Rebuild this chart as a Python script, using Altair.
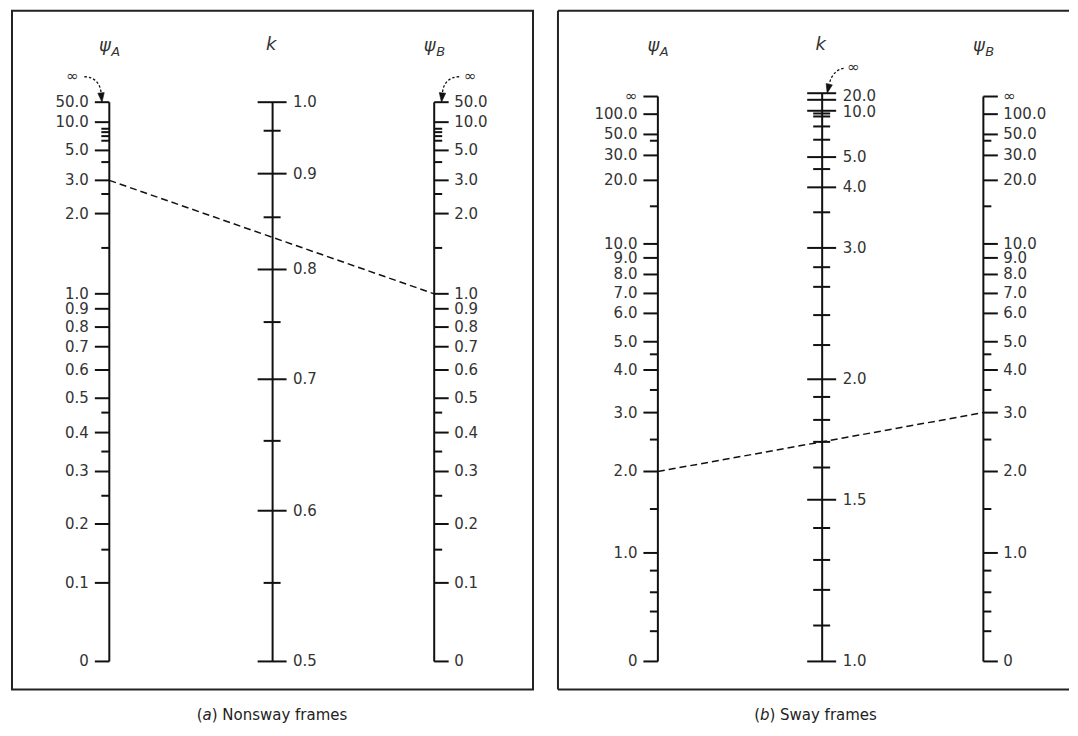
import altair as alt
import pandas as pd

INF = 1000.0   # numeric stand-in for the "∞" graduation

# ---------------- (a) Nonsway frames ----------------
a_psi_major = [0, 0.1, 0.2, 0.3, 0.4, 0.5, 0.6, 0.7, 0.8, 0.9, 1.0, 2.0, 3.0, 5.0, 10.0, 50.0]
a_psi_labels = ["0", "0.1", "0.2", "0.3", "0.4", "0.5", "0.6", "0.7", "0.8", "0.9",
                "1.0", "2.0", "3.0", "5.0", "10.0", "50.0"]
a_psi_minor = [0.15, 0.25, 0.35, 0.45, 1.5, 2.5, 4.0, 6.0, 7.0, 8.0, 9.0]
a_k_major = [0.5, 0.6, 0.7, 0.8, 0.9, 1.0]
a_k_labels = ["0.5", "0.6", "0.7", "0.8", "0.9", "1.0"]
a_k_minor = [0.55, 0.65, 0.75, 0.85, 0.95]
a_example = [3.0, 1.0]          # psi_A, psi_B joined by the dashed key line
a_caption = ["(", "a", ") Nonsway frames"]

# printed graduation of each scale: value -> page y (px)
a_psi_grad_val = [0, 0.1, 0.15, 0.2, 0.25, 0.3, 0.35, 0.4, 0.45, 0.5, 0.6, 0.7, 0.8, 0.9,
                  1.0, 1.5, 2.0, 2.5, 3.0, 4.0, 5.0, 6.0, 7.0, 8.0, 9.0, 10.0, 50.0]
a_psi_grad_y = [661, 582.3, 549, 523.3, 495, 470.7, 450.7, 431.7, 411.7, 397.3, 369, 345.7,
                326, 307.7, 292.7, 246.7, 212.3, 192.7, 179, 160.7, 149, 139.3, 134.7,
                130.7, 127.3, 120.7, 100.7]
a_k_grad_val = [0.5, 0.55, 0.6, 0.65, 0.7, 0.75, 0.8, 0.85, 0.9, 0.95, 1.0]
a_k_grad_y = [661, 582.3, 510, 440, 378.3, 321, 268.3, 216, 172.3, 129.3, 100.7]

# ---------------- (b) Sway frames ----------------
b_psi_major = [0, 1.0, 2.0, 3.0, 4.0, 5.0, 6.0, 7.0, 8.0, 9.0, 10.0, 20.0, 30.0, 50.0, 100.0, INF]
b_psi_labels = ["0", "1.0", "2.0", "3.0", "4.0", "5.0", "6.0", "7.0", "8.0", "9.0", "10.0",
                "20.0", "30.0", "50.0", "100.0", "∞"]
b_psi_minor = [0.2, 0.4, 0.6, 0.8, 1.5, 2.5, 3.5, 4.5, 15.0, 40.0]
b_k_major = [1.0, 1.5, 2.0, 3.0, 4.0, 5.0, 10.0, 20.0, INF]
b_k_labels = ["1.0", "1.5", "2.0", "3.0", "4.0", "5.0", "10.0", "20.0", ""]
b_k_minor = [1.1, 1.2, 1.3, 1.4, 1.6, 1.7, 1.8, 1.9, 2.2, 2.4, 2.6, 2.8, 3.5, 4.5,
             6.0, 7.0, 8.0, 9.0]
b_example = [2.0, 3.0]
b_caption = ["(", "b", ") Sway frames"]

b_psi_grad_val = [0, 0.2, 0.4, 0.6, 0.8, 1.0, 1.5, 2.0, 2.5, 3.0, 3.5, 4.0, 4.5, 5.0, 6.0,
                  7.0, 8.0, 9.0, 10.0, 15.0, 20.0, 30.0, 40.0, 50.0, 100.0, INF]
b_psi_grad_y = [661, 630.7, 611, 591.7, 570, 552.3, 508.3, 470.7, 438.7, 411.7, 389, 369,
                353.3, 340.7, 312.3, 292.3, 273.3, 256.7, 242.7, 205, 179, 154, 139.3, 133,
                112.7, 95]
b_k_grad_val = [1.0, 1.1, 1.2, 1.3, 1.4, 1.5, 1.6, 1.7, 1.8, 1.9, 2.0, 2.2, 2.4, 2.6, 2.8,
                3.0, 3.5, 4.0, 4.5, 5.0, 6.0, 7.0, 8.0, 9.0, 10.0, 20.0, INF]
b_k_grad_y = [661, 625, 589.3, 559.3, 527.3, 499, 466.7, 441, 419, 396, 378.3, 344, 314,
              285.7, 266, 246.7, 211, 186, 167.7, 155.7, 138.3, 125, 115, 112, 109.3, 98.3,
              91.7]

# ---------------- layout / style ----------------
WA, WB, H = 522, 512, 680
TOP = 9                          # page y of the plot-area top
SPACING = 23
COLS_A_PX = [97.5, 261.1, 423.0]     # psi_A, k, psi_B positions inside panel (a)
COLS_B_PX = [100.1, 264.7, 426.2]    # ... inside panel (b)
CAP_CENTER = {"a": 260.5, "b": 258.0}
CAP_Y = 706
FONT = "DejaVu Sans"
INK = "#111111"
TXT = "#333333"
FRAME = "#222222"
LABEL_SIZE = 15
CAP_SIZE = 15
# DejaVu Sans advance widths (em) for caption layout
ADV = {"(": 0.390, ")": 0.390, " ": 0.318, "N": 0.748, "S": 0.635, "o": 0.612, "n": 0.634,
       "s": 0.521, "w": 0.818, "a": 0.613, "b": 0.635, "y": 0.592, "f": 0.352, "r": 0.411,
       "m": 0.974, "e": 0.615}

# dotted "∞" pointer glyphs (symbol paths in px, tip at the end of the scale)
CURVE_L = "M-25,-25.5 C-15,-25.5 -9,-19 -8.3,-9.3"
HEAD_L = "M-7.3,0 L-11.5,-9 L-5.1,-9.6 Z"
CURVE_R = "M25,-25.5 C15,-25.5 9,-19 8.3,-9.3"
HEAD_R = "M7.3,0 L11.5,-9 L5.1,-9.6 Z"
CURVE_K = "M21.5,-25 C14,-23.5 9,-18 7.1,-9"
HEAD_K = "M5,0 L10.2,-8.3 L4,-9.7 Z"


def width(s):
    return sum(ADV.get(c, 0.6) for c in s) * CAP_SIZE


def df(col, values, labels=None):
    d = {"col": [col] * len(values), "v": list(values)}
    if labels is not None:
        d["label"] = list(labels)
    return pd.DataFrame(d)


def arrow_layers(X, Y, col, v, curve, head, inf_dx, inf_dy):
    one = df(col, [v])
    return [
        alt.Chart(one).mark_point(shape=curve, size=4, filled=False, color=INK, opacity=1,
                                  strokeWidth=1.3, strokeDash=[2.5, 2]).encode(X, Y),
        alt.Chart(one).mark_point(shape=head, size=4, filled=True, color=INK, opacity=1,
                                  stroke=INK, strokeWidth=0.6).encode(X, Y),
        alt.Chart(one).mark_text(text="∞", font=FONT, fontSize=LABEL_SIZE, color=TXT,
                                 dx=inf_dx, dy=inf_dy).encode(X, Y),
    ]


def caption_layers(parts, center):
    pre, ital, post = parts
    total = width(pre) + width(ital) + width(post)
    x0 = center - total / 2
    xa = x0 + width(pre)
    xb = xa + width(ital)
    one = pd.DataFrame({"a": [0]})
    st = dict(font=FONT, fontSize=CAP_SIZE, color="#222222", baseline="middle", align="left")
    return [
        alt.Chart(one).mark_text(text=pre, **st).encode(x=alt.value(x0), y=alt.value(CAP_Y)),
        alt.Chart(one).mark_text(text=ital, fontStyle="italic", **st).encode(
            x=alt.value(xa), y=alt.value(CAP_Y)),
        alt.Chart(one).mark_text(text=post, **st).encode(x=alt.value(xb), y=alt.value(CAP_Y)),
    ]


def panel(W, cols_px, psi_major, psi_labels, psi_minor, psi_gv, psi_gy,
          k_major, k_labels, k_minor, k_gv, k_gy, example, arrows, caption, cap_center,
          k_label_dy=None, boxed=True):
    X = alt.X("col:Q", axis=None,
              scale=alt.Scale(domain=[0, 1, 2], range=cols_px, nice=False, zero=False))
    s_psi = alt.Scale(domain=psi_gv, range=[y - TOP for y in psi_gy], nice=False, zero=False)
    s_k = alt.Scale(domain=k_gv, range=[y - TOP for y in k_gy], nice=False, zero=False)
    Ypsi = alt.Y("v:Q", scale=s_psi, axis=None)
    Yk = alt.Y("v:Q", scale=s_k, axis=None)

    rule = dict(color=INK, strokeWidth=2)
    lab = dict(font=FONT, fontSize=LABEL_SIZE, color=TXT, baseline="middle")

    # ---- psi scales (columns 0 and 2)
    spine = pd.DataFrame({"col": [0, 2], "lo": [psi_gv[0]] * 2, "hi": [psi_gv[-1]] * 2})
    psi = [
        alt.Chart(spine).mark_rule(**rule).encode(
            X, alt.Y("lo:Q", scale=s_psi, axis=None), alt.Y2("hi:Q")),
        alt.Chart(df(0, psi_major)).mark_rule(x2Offset=-14.5, **rule).encode(X, alt.X2("col"), Ypsi),
        alt.Chart(df(0, psi_minor)).mark_rule(x2Offset=-8, **rule).encode(X, alt.X2("col"), Ypsi),
        alt.Chart(df(2, psi_major)).mark_rule(x2Offset=14.5, **rule).encode(X, alt.X2("col"), Ypsi),
        alt.Chart(df(2, psi_minor)).mark_rule(x2Offset=8, **rule).encode(X, alt.X2("col"), Ypsi),
        alt.Chart(df(0, psi_major, psi_labels)).mark_text(align="right", dx=-20.5, **lab).encode(
            X, Ypsi, text="label:N"),
        alt.Chart(df(2, psi_major, psi_labels)).mark_text(align="left", dx=20, **lab).encode(
            X, Ypsi, text="label:N"),
        alt.Chart(pd.DataFrame({"col": [0, 2], "v": example})).mark_line(
            color=INK, strokeWidth=1.5, strokeDash=[7, 4]).encode(X, Ypsi),
        # column headers
        alt.Chart(pd.DataFrame({"col": [0, 2]})).mark_text(
            text="ψ", font=FONT, fontSize=18, fontStyle="italic", color=TXT,
            align="center", baseline="alphabetic", dx=-4.5).encode(X, y=alt.value(40)),
        alt.Chart(pd.DataFrame({"col": [0, 2], "s": ["A", "B"]})).mark_text(
            font=FONT, fontSize=13, fontStyle="italic", color=TXT,
            align="left", baseline="alphabetic", dx=2).encode(X, y=alt.value(45), text="s:N"),
    ]
    # ---- k scale (column 1)
    kspine = pd.DataFrame({"col": [1], "lo": [k_gv[0]], "hi": [k_gv[-1]]})
    kl = [
        alt.Chart(kspine).mark_rule(**rule).encode(
            X, alt.Y("lo:Q", scale=s_k, axis=None), alt.Y2("hi:Q")),
        alt.Chart(df(1, k_major)).mark_rule(xOffset=-15, x2Offset=14, **rule).encode(
            X, alt.X2("col"), Yk),
        alt.Chart(df(1, k_minor)).mark_rule(xOffset=-9, x2Offset=8, **rule).encode(
            X, alt.X2("col"), Yk),
        alt.Chart(pd.DataFrame({"col": [1]})).mark_text(
            text="k", font=FONT, fontSize=18, fontStyle="italic", color=TXT,
            align="center", baseline="alphabetic", dx=-1.5).encode(X, y=alt.value(39)),
    ]
    nudges = k_label_dy or [0] * len(k_major)
    for nd in sorted(set(nudges)):
        vals = [v for v, n in zip(k_major, nudges) if n == nd]
        labs = [t for t, n in zip(k_labels, nudges) if n == nd]
        kl.append(alt.Chart(df(1, vals, labs)).mark_text(align="left", dx=20.5, dy=nd, **lab)
                  .encode(X, Yk, text="label:N"))

    for scale_name, col, curve, head, idx, idy in arrows:
        if scale_name == "psi":
            psi += arrow_layers(X, Ypsi, col, psi_gv[-1], curve, head, idx, idy)
        else:
            kl += arrow_layers(X, Yk, col, k_gv[-1], curve, head, idx, idy)

    kl += caption_layers(caption, cap_center)

    if not boxed:   # frame open on the right: it runs off the page there
        one = pd.DataFrame({"a": [0]})
        fr = dict(color=FRAME, strokeWidth=2)
        kl += [
            alt.Chart(one).mark_rule(**fr).encode(x=alt.value(0), y=alt.value(0), y2=alt.value(H)),
            alt.Chart(one).mark_rule(**fr).encode(x=alt.value(0), x2=alt.value(W), y=alt.value(0)),
            alt.Chart(one).mark_rule(**fr).encode(x=alt.value(0), x2=alt.value(W), y=alt.value(H)),
        ]
    view = (alt.ViewBackground(stroke=FRAME, strokeWidth=2) if boxed
            else alt.ViewBackground(stroke="transparent", strokeWidth=0))

    return alt.layer(alt.layer(*psi), alt.layer(*kl)).resolve_scale(y="independent").properties(
        width=W, height=H, view=view)


pa = panel(WA, COLS_A_PX, a_psi_major, a_psi_labels, a_psi_minor, a_psi_grad_val, a_psi_grad_y,
           a_k_major, a_k_labels, a_k_minor, a_k_grad_val, a_k_grad_y, a_example,
           [("psi", 0, CURVE_L, HEAD_L, -37, -26.5), ("psi", 2, CURVE_R, HEAD_R, 36, -26.5)],
           a_caption, CAP_CENTER["a"])
pb = panel(WB, COLS_B_PX, b_psi_major, b_psi_labels, b_psi_minor, b_psi_grad_val, b_psi_grad_y,
           b_k_major, b_k_labels, b_k_minor, b_k_grad_val, b_k_grad_y, b_example,
           [("k", 1, CURVE_K, HEAD_K, 31.5, -26.5)], b_caption, CAP_CENTER["b"],
           k_label_dy=[0, 0, 0, 0, 0, 0, 1.5, -4, 0], boxed=False)

chart = alt.hconcat(pa, pb, spacing=SPACING).properties(
    padding={"left": 3, "top": 1, "right": 0, "bottom": 0},
    background="white",
)

chart.save("out.html", embed_options={"renderer": "svg", "actions": False})
